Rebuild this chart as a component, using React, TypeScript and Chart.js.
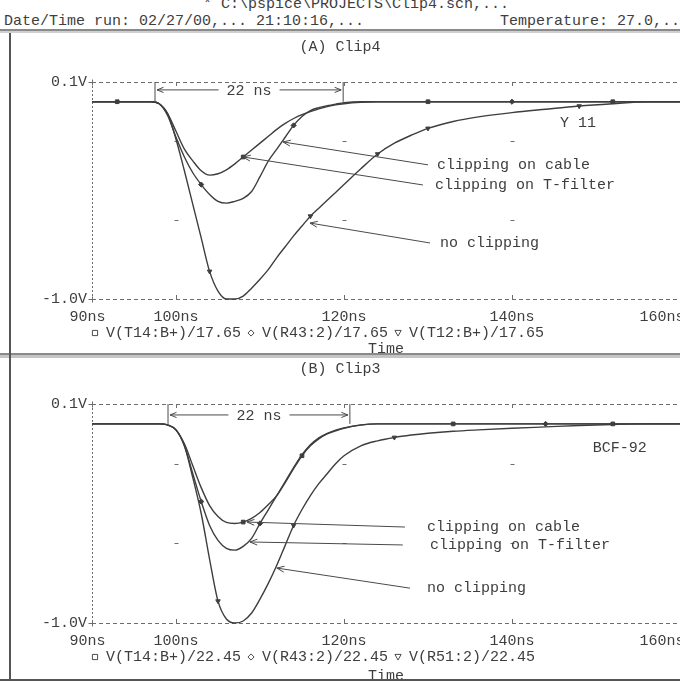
import React, { useEffect, useRef } from "react";
import { Chart, registerables } from "chart.js";

Chart.register(...registerables);

// ---------- data ----------
const timeNs = [90, 93, 96, 97, 98, 99, 100, 101, 102, 103, 104, 105, 106, 107, 108, 109, 110, 111, 112, 113, 114, 115, 116, 117, 118, 119, 120, 122, 124, 126, 128, 130, 133, 136, 140, 144, 148, 152, 156, 160];

// (A) Clip4
const clip4TFilter = [0, 0, 0, 0, -0.01, -0.06, -0.15, -0.24, -0.3, -0.35, -0.372, -0.365, -0.345, -0.315, -0.28, -0.245, -0.21, -0.175, -0.14, -0.11, -0.085, -0.065, -0.05, -0.036, -0.025, -0.016, -0.01, -0.003, 0, 0, 0, 0, 0, 0, 0, 0, 0, 0, 0, 0];
const clip4Cable = [0, 0, 0, 0, -0.01, -0.07, -0.18, -0.28, -0.36, -0.42, -0.47, -0.505, -0.514, -0.505, -0.49, -0.455, -0.38, -0.3, -0.24, -0.18, -0.12, -0.075, -0.045, -0.03, -0.02, -0.012, -0.005, 0, 0, 0, 0, 0, 0, 0, 0, 0, 0, 0, 0, 0];
const clip4NoClipping = [0, 0, 0, 0, -0.01, -0.06, -0.19, -0.35, -0.52, -0.69, -0.86, -0.96, -1.0, -1.0, -0.985, -0.945, -0.9, -0.85, -0.79, -0.735, -0.68, -0.63, -0.58, -0.54, -0.5, -0.46, -0.42, -0.34, -0.265, -0.21, -0.17, -0.135, -0.1, -0.077, -0.055, -0.038, -0.022, -0.01, 0, 0];

// (B) Clip3
const clip3Cable = [0, 0, 0, 0, 0, -0.005, -0.03, -0.1, -0.21, -0.32, -0.41, -0.465, -0.495, -0.5, -0.493, -0.475, -0.445, -0.405, -0.36, -0.295, -0.225, -0.16, -0.11, -0.075, -0.05, -0.035, -0.022, -0.006, 0, 0, 0, 0, 0, 0, 0, 0, 0, 0, 0, 0];
const clip3TFilter = [0, 0, 0, 0, 0, -0.005, -0.03, -0.11, -0.25, -0.39, -0.51, -0.585, -0.625, -0.634, -0.615, -0.575, -0.5, -0.43, -0.36, -0.29, -0.22, -0.155, -0.105, -0.07, -0.048, -0.032, -0.02, -0.005, 0, 0, 0, 0, 0, 0, 0, 0, 0, 0, 0, 0];
const clip3NoClipping = [0, 0, 0, 0, 0, -0.005, -0.03, -0.11, -0.27, -0.45, -0.68, -0.89, -0.98, -1.0, -0.99, -0.95, -0.88, -0.8, -0.71, -0.61, -0.51, -0.43, -0.36, -0.3, -0.25, -0.2, -0.16, -0.11, -0.085, -0.068, -0.056, -0.047, -0.037, -0.03, -0.022, -0.015, -0.008, -0.003, 0, 0];

// marker times (ns) on each trace
const clip4TFilterMarks = [93, 108, 130, 152];
const clip4CableMarks = [103, 114, 140];
const clip4NoClippingMarks = [104, 116, 124, 130, 148];
const clip3CableMarks = [108, 115, 133, 152];
const clip3TFilterMarks = [103, 110, 144];
const clip3NoClippingMarks = [105, 114, 126];

const xTickNs = [90, 100, 120, 140, 160];
const xTickLabels = ["90ns", "100ns", "120ns", "140ns", "160ns"];
const yTickV = [0.1, -1.0];
const yTickLabels = ["0.1V", "-1.0V"];
const guideNs = [100, 120, 140];
const guideV = [-0.2, -0.6];

const clip4Traces = ["V(T14:B+)/17.65", "V(R43:2)/17.65", "V(T12:B+)/17.65"];
const clip3Traces = ["V(T14:B+)/22.45", "V(R43:2)/22.45", "V(R51:2)/22.45"];

const headerFile = "* C:\\pspice\\PROJECTS\\Clip4.sch,...";
const headerRun = "Date/Time run: 02/27/00,... 21:10:16,...";
const headerTemp = "Temperature: 27.0,...";

// ---------- styling ----------
const FONT = '"Liberation Mono", "DejaVu Sans Mono", monospace';
const INK = "#3e3e3e";
const FS = 15;

type Note = { text: string; tip: [number, number]; tail: [number, number]; labelT: number };
type Series = { label: string; values: number[]; shape: string; marks: number[] };
type PanelCfg = {
  title: string;
  series: Series[];
  dim: { t0: number; t1: number; v: number; barTop: number; barBottom: number; text: string };
  notes: Note[];
  tag: { text: string; t: number; v: number };
  top: number;
  height: number;
  padTop: number;
  xAxisHeight: number;
};

const clip4Panel: PanelCfg = {
  title: "(A) Clip4",
  series: [
    { label: clip4Traces[0], values: clip4TFilter, shape: "square", marks: clip4TFilterMarks },
    { label: clip4Traces[1], values: clip4Cable, shape: "diamond", marks: clip4CableMarks },
    { label: clip4Traces[2], values: clip4NoClipping, shape: "triangle", marks: clip4NoClippingMarks },
  ],
  dim: { t0: 97.5, t1: 119.9, v: 0.06, barTop: 0.1, barBottom: 0.0, text: "22 ns" },
  notes: [
    { text: "clipping on cable", tip: [112.74, -0.204], tail: [130.0, -0.32], labelT: 131.07 },
    { text: "clipping on T-filter", tip: [107.98, -0.28], tail: [129.4, -0.422], labelT: 130.83 },
    { text: "no clipping", tip: [115.95, -0.615], tail: [130.24, -0.716], labelT: 131.43 },
  ],
  tag: { text: "Y 11", t: 145.7, v: -0.108 },
  top: 33,
  height: 324,
  padTop: 49,
  xAxisHeight: 58,
};

const clip3Panel: PanelCfg = {
  title: "(B) Clip3",
  series: [
    { label: clip3Traces[0], values: clip3Cable, shape: "square", marks: clip3CableMarks },
    { label: clip3Traces[1], values: clip3TFilter, shape: "diamond", marks: clip3TFilterMarks },
    { label: clip3Traces[2], values: clip3NoClipping, shape: "triangle", marks: clip3NoClippingMarks },
  ],
  dim: { t0: 99.05, t1: 120.7, v: 0.045, barTop: 0.1, barBottom: 0.0, text: "22 ns" },
  notes: [
    { text: "clipping on cable", tip: [108.45, -0.493], tail: [127.26, -0.518], labelT: 129.88 },
    { text: "clipping on T-filter", tip: [108.8, -0.593], tail: [127.0, -0.608], labelT: 130.24 },
    { text: "no clipping", tip: [112.0, -0.724], tail: [127.86, -0.825], labelT: 129.88 },
  ],
  tag: { text: "BCF-92", t: 149.6, v: -0.121 },
  top: 357,
  height: 327,
  padTop: 47,
  xAxisHeight: 61,
};

// ---------- drawing helpers ----------
function seg(ctx: CanvasRenderingContext2D, x0: number, y0: number, x1: number, y1: number) {
  ctx.beginPath();
  ctx.moveTo(x0, y0);
  ctx.lineTo(x1, y1);
  ctx.stroke();
}

function arrowHead(ctx: CanvasRenderingContext2D, tx: number, ty: number, fx: number, fy: number, len = 7) {
  const ang = Math.atan2(fy - ty, fx - tx);
  for (const d of [-0.38, 0.38]) {
    seg(ctx, tx, ty, tx + len * Math.cos(ang + d), ty + len * Math.sin(ang + d));
  }
}

function shapePath(ctx: CanvasRenderingContext2D, shape: string, cx: number, cy: number, r: number) {
  ctx.beginPath();
  if (shape === "square") {
    ctx.rect(cx - r, cy - r, 2 * r, 2 * r);
  } else if (shape === "diamond") {
    ctx.moveTo(cx, cy - r - 0.5);
    ctx.lineTo(cx + r + 0.5, cy);
    ctx.lineTo(cx, cy + r + 0.5);
    ctx.lineTo(cx - r - 0.5, cy);
    ctx.closePath();
  } else {
    ctx.moveTo(cx - r - 0.5, cy - r);
    ctx.lineTo(cx + r + 0.5, cy - r);
    ctx.lineTo(cx, cy + r + 0.5);
    ctx.closePath();
  }
}

function decorPlugin(p: PanelCfg) {
  return {
    id: "decor",
    beforeDatasetsDraw(chart: any) {
      const { ctx, chartArea: a } = chart;
      const xs = chart.scales.x;
      const ys = chart.scales.y;
      const X = (t: number) => xs.getPixelForValue(t);
      const Y = (v: number) => ys.getPixelForValue(v);
      ctx.save();
      ctx.strokeStyle = "#6c6c6c";
      ctx.lineWidth = 1;
      ctx.setLineDash([4, 3]);
      for (const v of yTickV) {
        const py = Math.round(Y(v)) + 0.5;
        seg(ctx, a.left, py, a.right, py);
      }
      ctx.setLineDash([2, 2]);
      const lx = Math.round(X(xTickNs[0])) + 0.5;
      seg(ctx, lx, a.top, lx, a.bottom);
      ctx.setLineDash([]);
      for (const v of yTickV) {
        const py = Math.round(Y(v)) + 0.5;
        seg(ctx, lx - 4, py, lx + 3, py);
        seg(ctx, lx, py - 3, lx, py + 3);
      }
      for (const t of guideNs) {
        const px = Math.round(X(t)) + 0.5;
        seg(ctx, px, Y(yTickV[0]), px, Y(yTickV[0]) + 4);
        seg(ctx, px, Y(yTickV[1]) - 4, px, Y(yTickV[1]));
        for (const v of guideV) {
          const py = Math.round(Y(v)) + 0.5;
          seg(ctx, px - 2, py, px + 2, py);
        }
      }
      ctx.restore();
    },
    afterDatasetsDraw(chart: any) {
      const { ctx, chartArea: a } = chart;
      const xs = chart.scales.x;
      const ys = chart.scales.y;
      const X = (t: number) => xs.getPixelForValue(t);
      const Y = (v: number) => ys.getPixelForValue(v);
      ctx.save();
      ctx.strokeStyle = "#4a4a4a";
      ctx.fillStyle = INK;
      ctx.lineWidth = 1;
      ctx.font = `${FS}px ${FONT}`;
      ctx.textBaseline = "middle";

      // 22 ns dimension
      const d = p.dim;
      const x0 = X(d.t0);
      const x1 = X(d.t1);
      const ya = Y(d.v);
      seg(ctx, x0, Y(d.barTop), x0, Y(d.barBottom));
      seg(ctx, x1, Y(d.barTop), x1, Y(d.barBottom));
      const w = ctx.measureText(d.text).width;
      const mid = (x0 + x1) / 2;
      seg(ctx, x0 + 2, ya, mid - w / 2 - 8, ya);
      seg(ctx, mid + w / 2 + 8, ya, x1 - 2, ya);
      arrowHead(ctx, x0 + 2, ya, x0 + 20, ya);
      arrowHead(ctx, x1 - 2, ya, x1 - 20, ya);
      ctx.textAlign = "center";
      ctx.fillText(d.text, mid, ya + 1);

      // annotation arrows
      ctx.textAlign = "left";
      for (const n of p.notes) {
        const tx = X(n.tip[0]);
        const ty = Y(n.tip[1]);
        const fx = X(n.tail[0]);
        const fy = Y(n.tail[1]);
        seg(ctx, fx, fy, tx, ty);
        arrowHead(ctx, tx, ty, fx, fy, 8);
        ctx.fillText(n.text, X(n.labelT), fy);
      }

      // tag
      ctx.fillText(p.tag.text, X(p.tag.t), Y(p.tag.v));

      // title
      ctx.textAlign = "center";
      ctx.fillText(p.title, chart.width / 2, a.top - 35);

      // legend row
      ctx.textAlign = "left";
      const ly = a.bottom + 34;
      let cx = a.left + 3;
      for (const s of p.series) {
        ctx.lineWidth = 1;
        shapePath(ctx, s.shape, cx, ly, 2.6);
        ctx.stroke();
        const tx = cx + 11;
        ctx.fillText(s.label, tx, ly);
        cx = tx + ctx.measureText(s.label).width + 10;
      }
      ctx.restore();
    },
  };
}

// first label sits slightly left of its tick, last one is pushed left of the edge (as in the plot)
function xLabel(v: any, index: number) {
  const i = xTickNs.indexOf(Number(v));
  const base = i >= 0 ? xTickLabels[i] : `${v}ns`;
  if (index === 0) return base + " ";
  if (index === xTickNs.length - 1) return base + "    ";
  return base;
}

function Panel({ cfg }: { cfg: PanelCfg }) {
  const ref = useRef<HTMLCanvasElement | null>(null);
  useEffect(() => {
    if (!ref.current) return;
    const pointStyles: Record<string, { style: string; rot: number }> = {
      square: { style: "rect", rot: 0 },
      diamond: { style: "rectRot", rot: 0 },
      triangle: { style: "triangle", rot: 180 },
    };
    const chart = new Chart(ref.current, {
      type: "line",
      data: {
        datasets: cfg.series.map((s) => ({
          label: s.label,
          data: timeNs.map((t, i) => ({ x: t, y: s.values[i] })),
          borderColor: INK,
          borderWidth: 1.4,
          cubicInterpolationMode: "monotone",
          fill: false,
          clip: false,
          pointStyle: pointStyles[s.shape].style,
          rotation: pointStyles[s.shape].rot,
          pointRadius: (c: any) => (s.marks.includes(timeNs[c.dataIndex]) ? 2.6 : 0),
          pointBackgroundColor: INK,
          pointBorderColor: INK,
          pointBorderWidth: 1,
        })),
      } as any,
      options: {
        responsive: false,
        animation: false,
        events: [],
        layout: { padding: { top: cfg.padTop, left: 0, right: 0, bottom: 0 } },
        plugins: {
          legend: { display: false },
          tooltip: { enabled: false },
          title: { display: false },
        },
        scales: {
          x: {
            type: "linear",
            position: "bottom",
            min: 90,
            max: 160,
            afterBuildTicks: (s: any) => {
              s.ticks = xTickNs.map((v) => ({ value: v }));
            },
            afterFit: (s: any) => {
              s.height = cfg.xAxisHeight;
              s.paddingLeft = 0;
              s.paddingRight = 0;
            },
            grid: { display: false, drawTicks: false },
            border: { display: false },
            ticks: {
              padding: 9,
              autoSkip: false,
              maxRotation: 0,
              color: INK,
              font: { family: FONT, size: FS },
              callback: (v: any, index: number) => xLabel(v, index),
            },
            title: {
              display: true,
              text: "Time",
              color: INK,
              padding: 0,
              font: { family: FONT, size: FS, lineHeight: 1 },
            },
          },
          y: {
            type: "linear",
            min: -1.0,
            max: 0.1,
            afterBuildTicks: (s: any) => {
              s.ticks = yTickV.map((v) => ({ value: v }));
            },
            afterFit: (s: any) => {
              s.width = 92;
              s.paddingTop = 0;
              s.paddingBottom = 0;
            },
            grid: { display: false, drawTicks: false },
            border: { display: false },
            ticks: {
              padding: 5,
              autoSkip: false,
              color: INK,
              font: { family: FONT, size: FS },
              callback: (v: any) => {
                const i = yTickV.indexOf(Number(v));
                return i >= 0 ? yTickLabels[i] : `${Number(v).toFixed(1)}V`;
              },
            },
          },
        },
      } as any,
      plugins: [decorPlugin(cfg)],
    });
    return () => chart.destroy();
  }, [cfg]);
  return (
    <canvas
      ref={ref}
      width={680}
      height={cfg.height}
      style={{ position: "absolute", left: 0, top: cfg.top, width: 680, height: cfg.height }}
    />
  );
}

const textStyle: React.CSSProperties = {
  position: "absolute",
  fontFamily: FONT,
  fontSize: FS,
  lineHeight: "18px",
  color: INK,
  whiteSpace: "pre",
};

export default function App() {
  return (
    <div
      style={{
        position: "absolute",
        left: 0,
        top: 0,
        width: 680,
        height: 681,
        overflow: "hidden",
        background: "#ffffff",
      }}
    >
      <div style={{ ...textStyle, left: 203, top: -4 }}>{headerFile}</div>
      <div style={{ ...textStyle, left: 4, top: 13 }}>{headerRun}</div>
      <div style={{ ...textStyle, left: 500, top: 13 }}>{headerTemp}</div>
      <div style={{ position: "absolute", left: 0, top: 29, width: 680, height: 2, background: "#8a8a8a" }} />
      <div style={{ position: "absolute", left: 0, top: 31, width: 680, height: 2, background: "#cfcfcf" }} />
      <Panel cfg={clip4Panel} />
      <Panel cfg={clip3Panel} />
      <div style={{ position: "absolute", left: 0, top: 353, width: 680, height: 2, background: "#8a8a8a" }} />
      <div style={{ position: "absolute", left: 0, top: 355, width: 680, height: 3, background: "#c4c4c4" }} />
      <div style={{ position: "absolute", left: 9, top: 33, width: 2, height: 648, background: "#555" }} />
      <div style={{ position: "absolute", left: 0, top: 679, width: 680, height: 2, background: "#555" }} />
    </div>
  );
}
